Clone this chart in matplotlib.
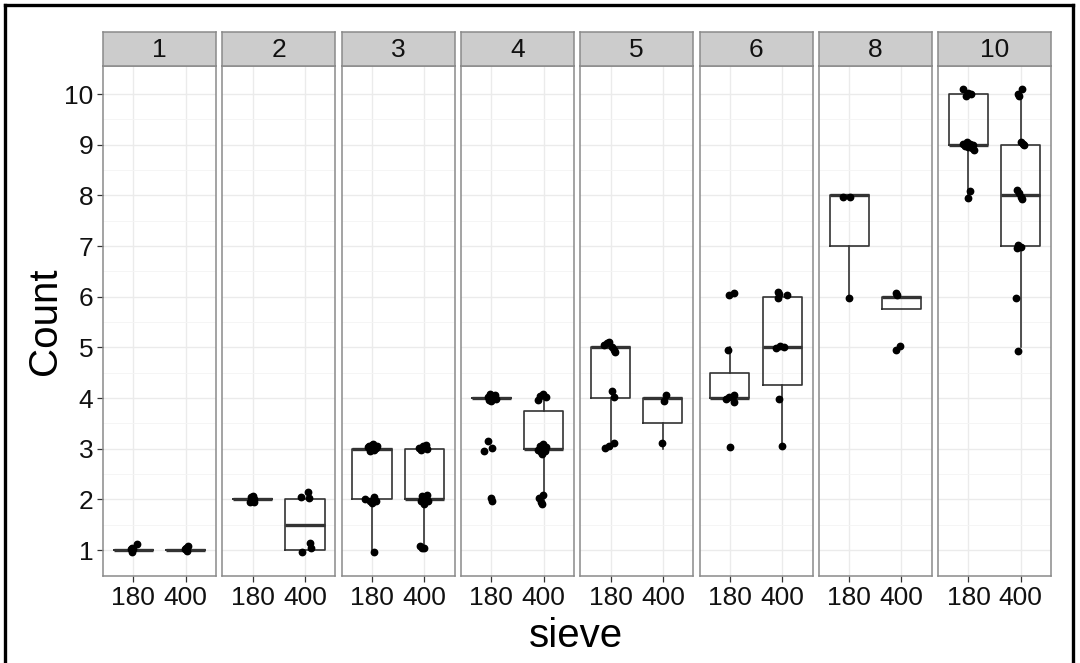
import matplotlib.pyplot as plt
from matplotlib.lines import Line2D

plt.rcParams["font.family"] = ["Liberation Sans", "DejaVu Sans"]

panels = ["1", "2", "3", "4", "5", "6", "8", "10"]
sieve_sizes = ["180", "400"]

# box statistics per panel, pairs are [180, 400]
q1 = [[1, 1], [2, 1], [2, 2], [4, 3], [4, 3.5], [4, 4.25], [7, 5.75], [9, 7]]
med = [[1, 1], [2, 1.5], [3, 2], [4, 3], [5, 4], [4, 5], [8, 6], [9, 8]]
q3 = [[1, 1], [2, 2], [3, 3], [4, 3.75], [5, 4], [4.5, 6], [8, 6], [10, 9]]
whislo = [[1, 1], [2, 1], [1, 1], [4, 2], [3, 3], [4, 3], [6, 5.75], [8, 5]]
whishi = [[1, 1], [2, 2], [3, 3], [4, 4], [5, 4], [5, 6], [8, 6], [10, 10]]

# jittered observations (x position, count); 1 = 180, 2 = 400
pts_1 = [(0.97, 1.05), (1.0, 1.03), (1.07, 1.12), (0.97, 0.97), (0.95, 1.02),
         (2.05, 1.08), (1.98, 1.02), (2.03, 0.98), (2.0, 1.04)]
pts_2 = [(0.96, 2.04), (1.0, 2.07), (1.03, 1.95), (0.95, 1.95), (1.02, 2.0),
         (1.92, 2.05), (2.05, 2.14), (2.08, 2.03), (1.94, 0.97), (2.09, 1.14), (2.11, 1.04)]
pts_3 = [(0.92, 3.03), (0.95, 3.06), (0.98, 3.0), (1.0, 3.08), (1.03, 2.97), (1.05, 3.04),
         (1.08, 3.01), (1.1, 3.06), (0.97, 2.95), (1.02, 3.1),
         (0.87, 2.0), (0.97, 1.98), (1.03, 2.05), (1.07, 1.97), (1.0, 1.93), (1.04, 0.97),
         (1.9, 3.02), (1.94, 2.97), (1.98, 3.05), (2.03, 3.08), (2.06, 3.0),
         (1.93, 1.97), (1.95, 2.06), (2.0, 1.92), (2.02, 2.03), (2.05, 2.08), (2.08, 1.98),
         (1.98, 1.99), (1.92, 1.08), (1.95, 1.04), (2.0, 1.05)]
pts_4 = [(0.93, 4.02), (0.95, 3.97), (0.98, 4.08), (1.0, 3.95), (1.02, 4.04), (1.05, 4.0),
         (1.08, 4.06), (1.1, 3.98), (0.94, 3.16), (0.87, 2.96), (1.02, 3.02),
         (1.0, 2.03), (1.02, 1.97),
         (1.9, 3.97), (1.94, 4.05), (1.98, 4.08), (2.04, 4.02),
         (1.9, 2.98), (1.93, 3.06), (1.95, 2.93), (1.98, 3.1), (2.0, 3.02), (2.03, 2.96),
         (2.05, 3.04), (1.97, 2.9), (1.92, 2.03), (1.95, 1.95), (1.99, 2.08), (1.97, 1.92)]
pts_5 = [(0.88, 5.04), (0.93, 5.08), (0.98, 5.1), (1.02, 5.0), (1.06, 4.95), (1.08, 4.92),
         (1.03, 4.15), (1.07, 4.03), (0.9, 3.01), (0.98, 3.06), (1.07, 3.11),
         (2.06, 4.06), (2.02, 3.94), (1.98, 3.11)]
pts_6 = [(0.99, 6.04), (1.07, 6.07), (0.97, 4.96), (0.92, 3.98), (0.99, 4.03),
         (1.07, 4.06), (1.07, 3.93), (1.0, 3.04),
         (1.92, 6.1), (1.93, 5.97), (2.09, 6.03), (1.94, 6.06),
         (1.89, 4.99), (1.96, 5.03), (2.04, 5.0), (1.94, 3.98), (2.0, 3.06)]
pts_8 = [(0.89, 7.97), (1.02, 7.97), (0.99, 5.98),
         (1.9, 6.08), (1.91, 6.03), (1.9, 4.95), (1.98, 5.02)]
pts_10 = [(0.9, 10.1), (0.95, 9.97), (1.05, 10.0), (0.99, 10.02),
          (0.9, 9.02), (0.94, 8.97), (0.97, 9.05), (1.0, 8.95), (1.03, 9.02), (1.06, 8.93),
          (1.09, 9.0), (1.11, 8.9), (1.03, 8.09), (1.0, 7.96),
          (2.02, 10.11), (1.94, 10.01), (1.97, 9.97), (2.0, 9.05), (2.04, 9.02), (2.06, 9.0),
          (1.92, 8.1), (1.96, 8.05), (2.0, 7.98), (2.02, 7.94),
          (1.93, 6.96), (1.95, 7.03), (2.0, 6.98), (1.91, 5.98), (1.94, 4.93)]
points = [pts_1, pts_2, pts_3, pts_4, pts_5, pts_6, pts_8, pts_10]

W, H = 1080, 663
fig = plt.figure(figsize=(W / 100, H / 100), dpi=100)


def px_rect(x0, y0, x1, y1):
    return [x0 / W, 1 - y1 / H, (x1 - x0) / W, (y1 - y0) / H]


edge = "#8a8a8a"
for i, name in enumerate(panels):
    left = 103 + i * 119.3
    ax = fig.add_axes(px_rect(left, 66.3, left + 113, 576))

    stats = []
    for j in range(2):
        stats.append(dict(med=med[i][j], q1=q1[i][j], q3=q3[i][j],
                          whislo=whislo[i][j], whishi=whishi[i][j], fliers=[]))
    ax.bxp(stats, positions=[1, 2], widths=0.75, showfliers=False, showcaps=False,
           manage_ticks=False,
           boxprops=dict(color="#333333", lw=1.2),
           whiskerprops=dict(color="#333333", lw=1.2),
           medianprops=dict(color="#333333", lw=2.4))

    xs = [p[0] for p in points[i]]
    ys = [p[1] for p in points[i]]
    ax.plot(xs, ys, "o", color="black", ms=4.6, zorder=5)

    ax.set_xlim(0.42, 2.58)
    ax.set_ylim(0.49, 10.55)
    ax.set_yticks(range(1, 11))
    ax.set_yticks([k + 0.5 for k in range(1, 10)], minor=True)
    ax.set_xticks([1, 2])
    ax.set_xticklabels(sieve_sizes)
    ax.grid(which="major", color="#EBEBEB", lw=1.0)
    ax.grid(which="minor", axis="y", color="#F4F4F4", lw=0.6)
    ax.set_axisbelow(True)
    ax.tick_params(which="minor", length=0)
    ax.tick_params(which="major", length=4, width=0.9, color="#333333",
                   labelsize=19, labelcolor="#111111", pad=3)
    if i > 0:
        ax.tick_params(axis="y", length=0, labelleft=False)
    for s in ax.spines.values():
        s.set_color(edge)
        s.set_linewidth(1.1)

    # facet strip
    st = fig.add_axes(px_rect(left, 32.3, left + 113, 66.3))
    st.set_facecolor("#CCCCCC")
    st.set_xticks([])
    st.set_yticks([])
    for s in st.spines.values():
        s.set_color(edge)
        s.set_linewidth(1.1)
    st.text(0.5, 0.48, name, ha="center", va="center", fontsize=19, color="#111111",
            transform=st.transAxes)

fig.text(45 / W, 1 - 321 / H, "Count", rotation=90, ha="center", va="center", fontsize=29)
fig.text(576 / W, 1 - 647 / H, "sieve", ha="center", va="baseline", fontsize=29)

# frame around the figure
for xs, ys in [([4.5, 4.5], [4.5, H]), ([4.5, 1073], [4.5, 4.5]), ([1073, 1073], [4.5, H])]:
    fig.add_artist(Line2D([x / W for x in xs], [1 - y / H for y in ys],
                          color="black", lw=2.4, transform=fig.transFigure))

fig.savefig("out.png", dpi=100)
